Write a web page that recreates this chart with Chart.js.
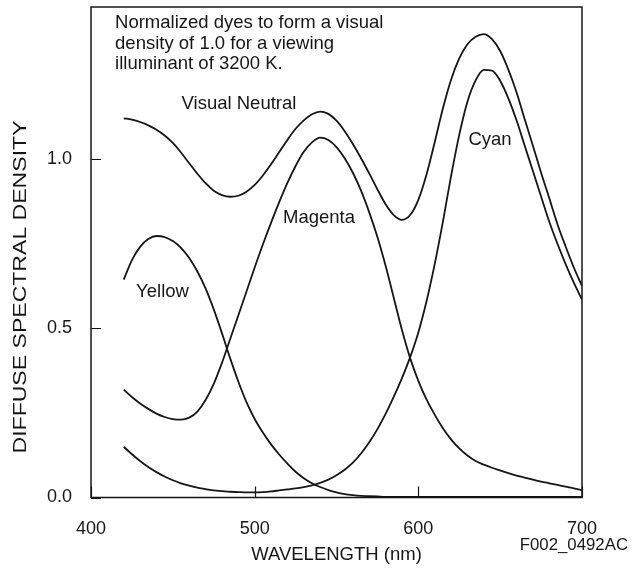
<!DOCTYPE html>
<html>
<head>
<meta charset="utf-8">
<script src="https://cdn.jsdelivr.net/npm/chart.js@4.4.1/dist/chart.umd.min.js"></script>
<style>
  html, body { margin: 0; padding: 0; background: #fff; }
  #wrap { width: 642px; height: 569px; }
</style>
</head>
<body>
<div id="wrap"><canvas id="chart" width="642" height="569"></canvas></div>
<script>
// Wavelengths (nm) sampled along the curves
const wavelengths = [420, 425, 430, 435, 440, 445, 450, 455, 460, 465, 470, 475, 480, 485, 490, 495,
  500, 505, 510, 515, 520, 525, 530, 535, 540, 545, 550, 555, 560, 565, 570, 575, 580, 585, 590, 595,
  600, 605, 610, 615, 620, 625, 630, 635, 640, 645, 650, 655, 660, 665, 670, 675, 680, 685, 690, 695, 700];

// Diffuse spectral density
const yellow = [0.644, 0.702, 0.741, 0.764, 0.773, 0.770, 0.758, 0.738, 0.708, 0.668, 0.618, 0.556, 0.486, 0.412, 0.343, 0.282,
  0.232, 0.192, 0.157, 0.127, 0.100, 0.076, 0.057, 0.042, 0.031, 0.022, 0.015, 0.010, 0.007, 0.005, 0.004, 0.003, 0.002, 0.002, 0.002, 0.002,
  0.002, 0.002, 0.002, 0.002, 0.002, 0.002, 0.002, 0.002, 0.002, 0.002, 0.002, 0.002, 0.002, 0.002, 0.002, 0.002, 0.002, 0.002, 0.002, 0.002, 0.002];

const magenta = [0.319, 0.297, 0.278, 0.262, 0.248, 0.238, 0.232, 0.230, 0.236, 0.254, 0.288, 0.336, 0.398, 0.468, 0.538, 0.609,
  0.680, 0.748, 0.812, 0.873, 0.930, 0.980, 1.022, 1.050, 1.064, 1.057, 1.036, 1.003, 0.960, 0.907, 0.843, 0.770, 0.685, 0.590, 0.495, 0.412,
  0.345, 0.290, 0.245, 0.205, 0.172, 0.145, 0.124, 0.108, 0.097, 0.088, 0.080, 0.072, 0.065, 0.059, 0.053, 0.047, 0.042, 0.037, 0.032, 0.027, 0.022];

const cyan = [0.150, 0.128, 0.108, 0.090, 0.075, 0.062, 0.051, 0.042, 0.035, 0.029, 0.025, 0.021, 0.019, 0.017, 0.016, 0.015,
  0.015, 0.016, 0.018, 0.021, 0.024, 0.027, 0.031, 0.036, 0.043, 0.053, 0.066, 0.082, 0.103, 0.130, 0.163, 0.202, 0.247, 0.298, 0.353, 0.415,
  0.488, 0.580, 0.690, 0.815, 0.950, 1.072, 1.170, 1.233, 1.264, 1.262, 1.232, 1.180, 1.115, 1.040, 0.965, 0.890, 0.815, 0.750, 0.690, 0.635, 0.585];

const visualNeutral = [1.121, 1.117, 1.110, 1.100, 1.087, 1.070, 1.048, 1.020, 0.988, 0.957, 0.929, 0.907, 0.894, 0.889, 0.892, 0.904,
  0.924, 0.952, 0.985, 1.021, 1.057, 1.090, 1.115, 1.133, 1.141, 1.134, 1.114, 1.083, 1.045, 1.003, 0.958, 0.911, 0.867, 0.835, 0.821, 0.835,
  0.880, 0.955, 1.050, 1.150, 1.235, 1.298, 1.340, 1.362, 1.370, 1.355, 1.320, 1.265, 1.198, 1.118, 1.040, 0.960, 0.885, 0.808, 0.742, 0.680, 0.625];

// Axis ticks
const xTicks = [400, 500, 600, 700];
const yTicks = [0.0, 0.5, 1.0];

const noteLines = ['Normalized dyes to form a visual', 'density of 1.0 for a viewing', 'illuminant of 3200 K.'];

const INK = '#161616';
const FONT = '"Liberation Sans", Arial, Helvetica, sans-serif';

function toPoints(values) {
  return wavelengths.map((w, i) => ({ x: w, y: values[i] }));
}

function curve(label, values) {
  return {
    label: label,
    data: toPoints(values),
    borderColor: INK,
    borderWidth: 1.8,
    pointRadius: 0,
    fill: false,
    cubicInterpolationMode: 'monotone'
  };
}

// no extra room around the scales: the plot box is placed by hand
function noPad(s) {
  s.paddingTop = 0;
  s.paddingBottom = 0;
  s.paddingLeft = 0;
  s.paddingRight = 0;
}

// Frame, inward ticks and the text written on the figure
const decor = {
  id: 'decor',
  afterDatasetsDraw(chart) {
    const { ctx, chartArea: a, scales: { x, y } } = chart;
    ctx.save();
    ctx.strokeStyle = INK;
    ctx.lineWidth = 1.5;
    ctx.strokeRect(a.left, a.top, a.right - a.left, a.bottom - a.top);
    ctx.beginPath();
    yTicks.forEach(v => {
      const py = Math.round(y.getPixelForValue(v)) + 0.5;
      ctx.moveTo(a.left, py);
      ctx.lineTo(a.left + 10, py);
    });
    xTicks.forEach(v => {
      const px = Math.round(x.getPixelForValue(v)) + 0.5;
      ctx.moveTo(px, a.bottom);
      ctx.lineTo(px, a.bottom - 11);
    });
    ctx.lineWidth = 1.2;
    ctx.stroke();
    ctx.restore();
  },
  afterDraw(chart) {
    const { ctx, chartArea: a, scales: { x, y } } = chart;
    ctx.save();
    ctx.fillStyle = INK;
    ctx.textBaseline = 'middle';

    // note in the upper left corner
    ctx.font = '18.5px ' + FONT;
    ctx.textAlign = 'left';
    const noteY = [1.402, 1.341, 1.283];
    noteLines.forEach((t, i) => ctx.fillText(t, x.getPixelForValue(414.7), y.getPixelForValue(noteY[i])));

    // curve names
    ctx.textAlign = 'center';
    ctx.fillText('Visual Neutral', x.getPixelForValue(490.4), y.getPixelForValue(1.163));
    ctx.fillText('Magenta', x.getPixelForValue(539.3), y.getPixelForValue(0.826));
    ctx.fillText('Yellow', x.getPixelForValue(443.7), y.getPixelForValue(0.607));
    ctx.fillText('Cyan', x.getPixelForValue(643.8), y.getPixelForValue(1.057));

    // axis titles
    ctx.fillText('WAVELENGTH (nm)', (a.left + a.right) / 2, 555);

    ctx.save();
    ctx.translate(21.5, 287);
    ctx.rotate(-Math.PI / 2);
    ctx.font = '18px ' + FONT;
    const title = 'DIFFUSE SPECTRAL DENSITY';
    const w = ctx.measureText(title).width;
    ctx.scale(333 / w, 1);
    ctx.fillText(title, 0, 0);
    ctx.restore();

    // figure code
    ctx.font = '16.8px ' + FONT;
    ctx.textAlign = 'right';
    ctx.fillText('F002_0492AC', 628, 545);
    ctx.restore();
  }
};

new Chart(document.getElementById('chart'), {
  type: 'line',
  data: {
    datasets: [
      curve('Visual Neutral', visualNeutral),
      curve('Yellow', yellow),
      curve('Magenta', magenta),
      curve('Cyan', cyan)
    ]
  },
  options: {
    responsive: false,
    animation: false,
    events: [],
    layout: { padding: { left: 0, right: 60, top: 7, bottom: 0 } },
    plugins: {
      legend: { display: false },
      tooltip: { enabled: false }
    },
    scales: {
      x: {
        type: 'linear',
        min: 400,
        max: 700,
        afterBuildTicks: s => { s.ticks = xTicks.map(v => ({ value: v })); },
        afterFit: s => { s.height = 71.5; noPad(s); },
        grid: { display: false },
        border: { display: false },
        ticks: {
          padding: 13,
          color: INK,
          font: { family: FONT, size: 18 },
          maxRotation: 0,
          callback: v => String(v)
        }
      },
      y: {
        min: 0,
        max: 1.45,
        afterBuildTicks: s => { s.ticks = yTicks.map(v => ({ value: v })); },
        afterFit: s => { s.width = 91; noPad(s); },
        grid: { display: false },
        border: { display: false },
        ticks: {
          padding: 11,
          color: INK,
          font: { family: FONT, size: 18 },
          callback: v => v.toFixed(1)
        }
      }
    }
  },
  plugins: [decor]
});
</script>
</body>
</html>
